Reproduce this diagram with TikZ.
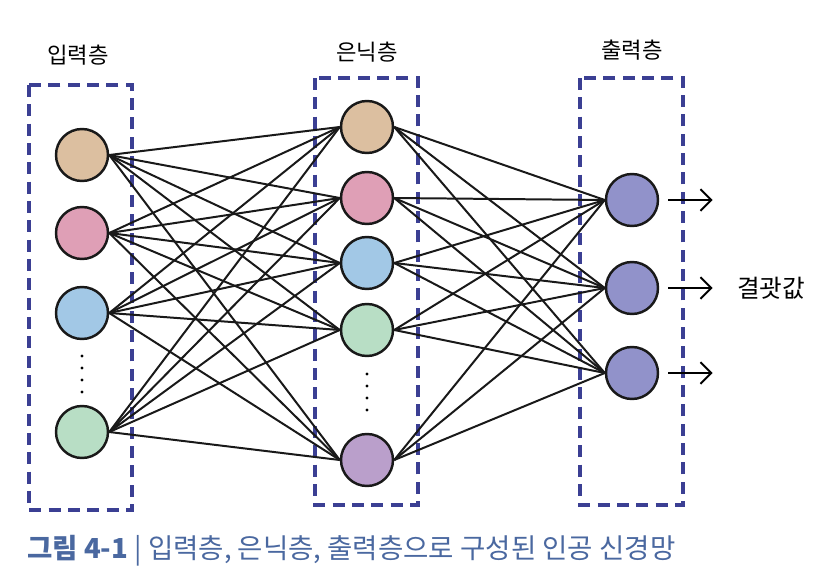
\documentclass[tikz,border=0pt]{standalone}
\usepackage{fontspec}
\setmainfont{Noto Sans CJK KR}
\usepackage{xcolor}
\usepackage{tikz}
\usetikzlibrary{arrows.meta,positioning}
\definecolor{boxblue}{HTML}{3B3F93}
\definecolor{capblue}{HTML}{4A68A0}
\definecolor{tan}{HTML}{DCBFA0}
\definecolor{rose}{HTML}{DF9FB6}
\definecolor{sky}{HTML}{A2C8E6}
\definecolor{mint}{HTML}{B8DEC5}
\definecolor{lilac}{HTML}{BA9FCB}
\definecolor{outviolet}{HTML}{9192CA}
\tikzset{
  neuron/.style={circle, draw=black!90, line width=2.1pt, minimum size=1.56cm, inner sep=0pt},
  layerbox/.style={draw=boxblue, line width=2.8pt, dash pattern=on 0.36cm off 0.22cm},
  wire/.style={draw=black!90, line width=1.7pt},
  outarrow/.style={line width=1.7pt, -{Straight Barb[length=3.2mm, width=6.5mm, line width=1.7pt]}},
  layerlabel/.style={font=\fontsize{19pt}{21pt}\selectfont},
  caption/.style={font=\fontsize{23.5pt}{26pt}\selectfont, text=capblue, anchor=west, inner sep=0pt}
}
\begin{document}
\begin{tikzpicture}[x=0.03cm,y=-0.03cm]
\path[use as bounding box] (0,0) rectangle (830,588);
\fill[white] (0,0) rectangle (830,588);

% layer boxes
\draw[layerbox] (29,85) rectangle (132,510);
\draw[layerbox] (315,78) rectangle (418,505);
\draw[layerbox] (580,78) rectangle (683,505);

\node[layerlabel] (inlabel) at (78,55) {입력층};
\node[layerlabel] (hidlabel) at (367,52) {은닉층};
\node[layerlabel] (outlabel) at (632,50) {출력층};

% input layer
\node[neuron, fill=tan] (in1) at (82,155) {};
\node[neuron, fill=rose] (in2) at (82,233) {};
\node[neuron, fill=sky] (in3) at (82,313) {};
\node[neuron, fill=mint] (in4) at (82,432) {};

% hidden layer
\node[neuron, fill=tan] (hid1) at (367,127) {};
\node[neuron, fill=rose] (hid2) at (367,198) {};
\node[neuron, fill=sky] (hid3) at (367,263) {};
\node[neuron, fill=mint] (hid4) at (367,330) {};
\node[neuron, fill=lilac] (hid5) at (367,460) {};

% output layer
\node[neuron, fill=outviolet] (out1) at (632,200) {};
\node[neuron, fill=outviolet] (out2) at (632,288) {};
\node[neuron, fill=outviolet] (out3) at (632,373) {};

% dots
\foreach \y in {356,368,380,392} \fill (82,\y) circle (1.6);
\foreach \y in {374,386,398,410} \fill (367,\y) circle (1.6);

% connections
\foreach \i in {1,...,4}
  \foreach \j in {1,...,5}
    \draw[wire] (in\i.east) -- (hid\j.west);
\foreach \j in {1,...,5}
  \foreach \k in {1,...,3}
    \draw[wire] (hid\j.east) -- (out\k.west);

% outputs
\foreach \k in {1,...,3} {
  \coordinate[right=0.27cm of out\k.east] (tail\k);
  \coordinate[right=1.6cm of out\k.east] (tip\k);
  \draw[outarrow] (tail\k) -- (tip\k);
}
\node[layerlabel, font=\fontsize{21pt}{23pt}\selectfont] (result) at (771,288) {결괏값};

\node[caption] (cap) at (27,551) {\textbf{그림 4-1} | 입력층, 은닉층, 출력층으로 구성된 인공 신경망};
\end{tikzpicture}
\end{document}
